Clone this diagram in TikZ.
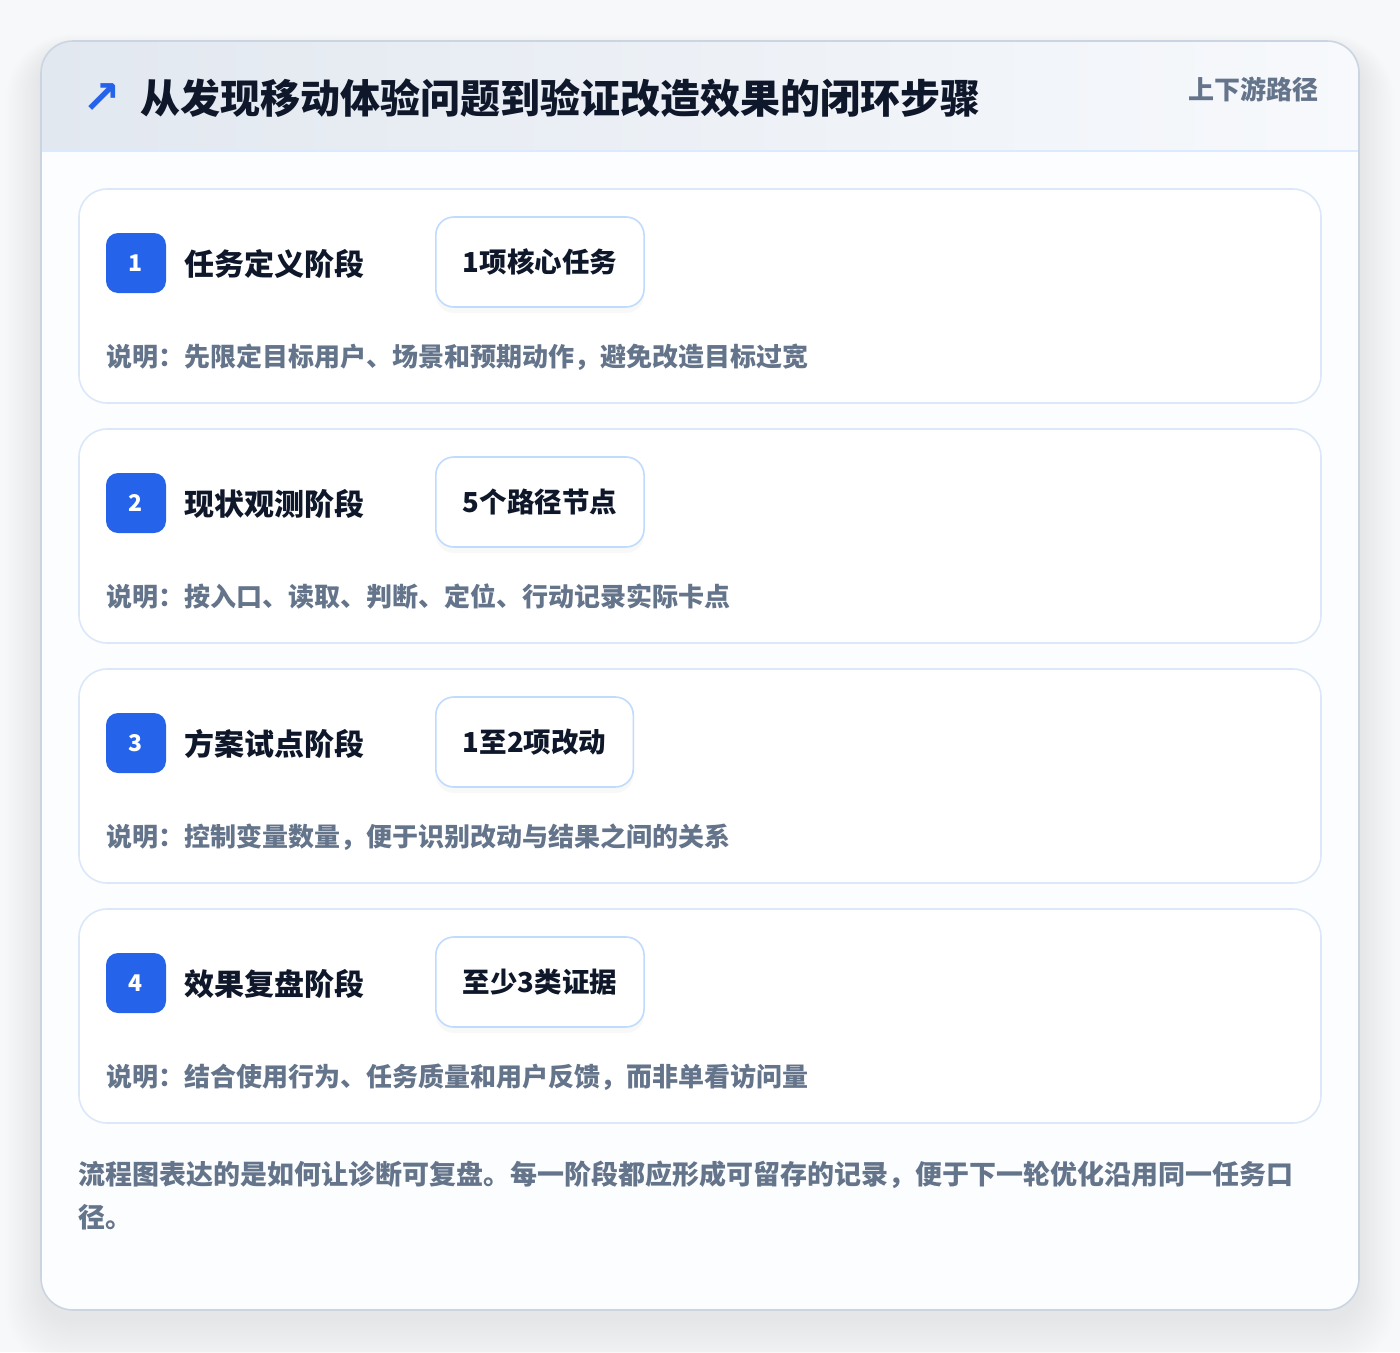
\documentclass[tikz,border=0pt]{standalone}
\usepackage{fontspec}
\setmainfont{Noto Sans CJK SC}
\newfontfamily\symfont{DejaVu Sans}
\usetikzlibrary{shadows}
\definecolor{pagebg}{HTML}{F7F8FA}
\definecolor{cardbody}{HTML}{FCFDFE}
\definecolor{cardline}{HTML}{CBD5E1}
\definecolor{headleft}{HTML}{E2E8F0}
\definecolor{headright}{HTML}{F7F9FC}
\definecolor{headline}{HTML}{DBEAFE}
\definecolor{stageline}{HTML}{DCE8FA}
\definecolor{tagline}{HTML}{BFDBFE}
\definecolor{badgeblue}{HTML}{2563EB}
\definecolor{inkdark}{HTML}{0F172A}
\definecolor{inkgray}{HTML}{64748B}

\begin{document}
\begin{tikzpicture}[x=1pt,y=-1pt,line cap=round,line join=round,
  stagecard/.style={draw=stageline,line width=1.6pt,fill=white,rounded corners=28pt},
  stagebadge/.style={fill=badgeblue,rounded corners=12pt,minimum size=60pt,inner sep=0pt,text=white,font=\bfseries\fontsize{23}{23}\selectfont},
  stagetitle/.style={anchor=west,inner sep=0pt,text=inkdark,font=\bfseries\fontsize{30}{30}\selectfont},
  stagetag/.style={anchor=west,draw=tagline,line width=1.6pt,fill=white,rounded corners=18pt,minimum height=90pt,inner xsep=27pt,text=inkdark,font=\bfseries\fontsize{27.5}{27.5}\selectfont,drop shadow={shadow xshift=0pt,shadow yshift=-6pt,opacity=.05}},
  stagenote/.style={anchor=west,inner sep=0pt,text=inkgray,font=\bfseries\fontsize{26}{26}\selectfont}]
        \useasboundingbox (0,0) rectangle (1400,1352);
        \fill[pagebg] (0,0) rectangle (1400,1352);
        % soft shadow under the card
        \foreach \k [evaluate=\k as \r using 32+2*\k] in {1,...,18}
          \fill[black,opacity=0.005,rounded corners=\r pt] ({41-2*\k},{52-\k}) rectangle ({1359+2*\k},{1318+3*\k});
        \fill[cardbody,rounded corners=32pt] (41,41) rectangle (1359,1310);
        \begin{scope}
          \clip[rounded corners=32pt] (41,41) rectangle (1359,1310);
          \shade[left color=headleft,right color=headright] (41,41) rectangle (1359,151);
        \end{scope}
        \draw[headline,line width=1.5pt] (41,151) -- (1359,151);
        \draw[cardline,line width=1.6pt,rounded corners=32pt] (41,41) rectangle (1359,1310);
        % header
        \node (icon) at (102,99) [inner sep=0pt,text=badgeblue,font=\symfont\bfseries\fontsize{46}{46}\selectfont] {↗};
        \node (title) at (140,98) [anchor=west,inner sep=0pt,text=inkdark,font=\bfseries\fontsize{40}{40}\selectfont] {从发现移动体验问题到验证改造效果的闭环步骤};
        \node (route) at (1319,89) [anchor=east,inner sep=0pt,text=inkgray,font=\bfseries\fontsize{26}{26}\selectfont] {上下游路径};
        % stage 1
        \draw[stagecard] (79,189) rectangle (1321,403);
        \node (b1) at (136,263) [stagebadge] {1};
        \node (t1) at (184,264) [stagetitle] {任务定义阶段};
        \node (g1) at (435,262) [stagetag] {1项核心任务};
        \node (n1) at (106,357) [stagenote] {说明：先限定目标用户、场景和预期动作，避免改造目标过宽};
        % stage 2
        \draw[stagecard] (79,429) rectangle (1321,643);
        \node (b2) at (136,503) [stagebadge] {2};
        \node (t2) at (184,504) [stagetitle] {现状观测阶段};
        \node (g2) at (435,502) [stagetag] {5个路径节点};
        \node (n2) at (106,597) [stagenote] {说明：按入口、读取、判断、定位、行动记录实际卡点};
        % stage 3
        \draw[stagecard] (79,669) rectangle (1321,883);
        \node (b3) at (136,743) [stagebadge] {3};
        \node (t3) at (184,744) [stagetitle] {方案试点阶段};
        \node (g3) at (435,742) [stagetag] {1至2项改动};
        \node (n3) at (106,837) [stagenote] {说明：控制变量数量，便于识别改动与结果之间的关系};
        % stage 4
        \draw[stagecard] (79,909) rectangle (1321,1123);
        \node (b4) at (136,983) [stagebadge] {4};
        \node (t4) at (184,984) [stagetitle] {效果复盘阶段};
        \node (g4) at (435,982) [stagetag] {至少3类证据};
        \node (n4) at (106,1077) [stagenote] {说明：结合使用行为、任务质量和用户反馈，而非单看访问量};
        % closing remark
        \node (f1) at (78,1175) [stagenote,font=\bfseries\fontsize{27}{27}\selectfont] {流程图表达的是如何让诊断可复盘。每一阶段都应形成可留存的记录，便于下一轮优化沿用同一任务口};
        \node (f2) at (78,1217) [stagenote,font=\bfseries\fontsize{27}{27}\selectfont] {径。};
\end{tikzpicture}
\end{document}
